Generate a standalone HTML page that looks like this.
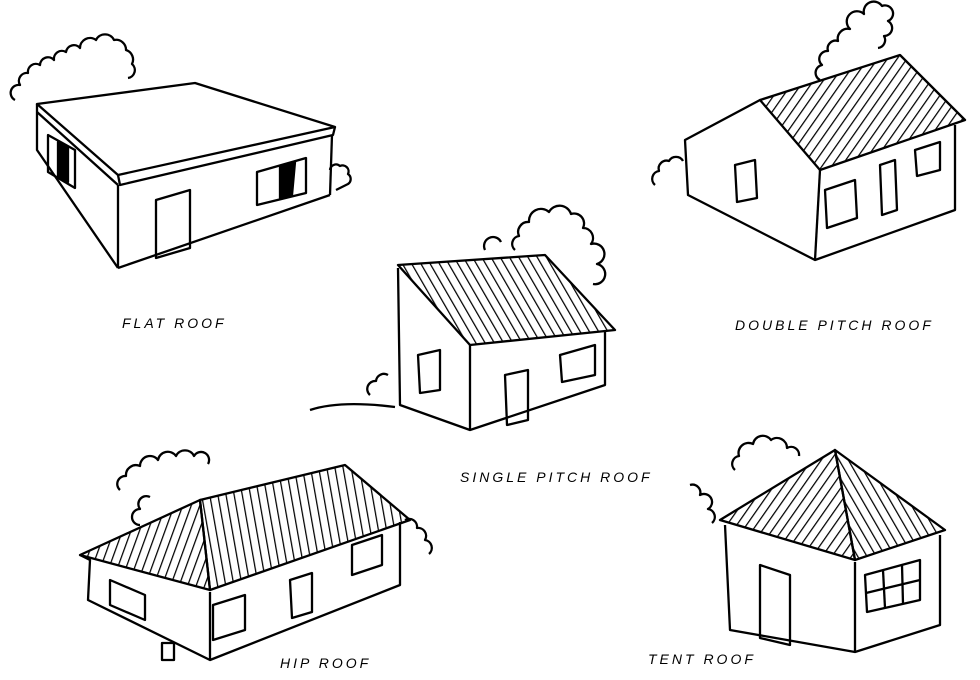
<!DOCTYPE html>
<html><head><style>
html,body{margin:0;padding:0;background:#fff;}
svg{display:block}
text{font-family:"Liberation Sans",sans-serif;font-style:italic;font-size:14px;letter-spacing:3px;fill:#000}
</style></head><body>
<svg width="980" height="680" viewBox="0 0 980 680" xmlns="http://www.w3.org/2000/svg">
<defs>
<pattern id="h1" patternUnits="userSpaceOnUse" width="8" height="8" patternTransform="rotate(35)"><line x1="0" y1="0" x2="0" y2="8" stroke="#000" stroke-width="2.5"/></pattern>
<pattern id="h2" patternUnits="userSpaceOnUse" width="8" height="8" patternTransform="rotate(-30)"><line x1="0" y1="0" x2="0" y2="8" stroke="#000" stroke-width="2.5"/></pattern>
<pattern id="h3" patternUnits="userSpaceOnUse" width="8" height="8" patternTransform="rotate(20)"><line x1="0" y1="0" x2="0" y2="8" stroke="#000" stroke-width="2.5"/></pattern>
<pattern id="h4" patternUnits="userSpaceOnUse" width="8" height="8" patternTransform="rotate(-10)"><line x1="0" y1="0" x2="0" y2="8" stroke="#000" stroke-width="2.5"/></pattern>
</defs>
<g fill="none" stroke="#000" stroke-width="2.3" stroke-linejoin="round">
<!-- bushes (scalloped) -->
<path d="M15,100 a8,8 0 0 1 5,-15 a8,8 0 0 1 8,-12 a8,8 0 0 1 12,-8 a8,8 0 0 1 14,-5 a8,8 0 0 1 12,-8 a8,8 0 0 1 14,-4 a10,10 0 0 1 16,-8 a10,10 0 0 1 18,0 a10,10 0 0 1 12,10 a10,10 0 0 1 6,14 a8,8 0 0 1 -4,14"/>
<path d="M820,80 a8,8 0 0 1 2,-15 a8,8 0 0 1 6,-14 a8,8 0 0 1 10,-10 a10,10 0 0 1 12,-12 a10,10 0 0 1 14,-15 a10,10 0 0 1 18,-8 a8,8 0 0 1 6,15 a8,8 0 0 1 -4,15 a8,8 0 0 1 -6,12"/>
<path d="M515,250 a8,8 0 0 1 4,-14 a10,10 0 0 1 10,-14 a12,12 0 0 1 20,-10 a12,12 0 0 1 22,2 a10,10 0 0 1 12,14 a10,10 0 0 1 8,16 a10,10 0 0 1 6,20 a10,10 0 0 1 -4,20"/>
<path d="M485,250 a6,6 0 0 1 16,-8"/>
<path d="M120,490 a8,8 0 0 1 6,-14 a10,10 0 0 1 14,-10 a10,10 0 0 1 18,-6 a10,10 0 0 1 18,-4 a10,10 0 0 1 18,0 a8,8 0 0 1 14,8"/>
<path d="M140,525 a8,8 0 0 1 0,-16 a8,8 0 0 1 10,-12"/>
<path d="M735,470 a8,8 0 0 1 4,-14 a10,10 0 0 1 14,-12 a10,10 0 0 1 18,-4 a10,10 0 0 1 16,8 a8,8 0 0 1 12,8"/>
<path d="M370,395 a8,8 0 0 1 6,-14 a8,8 0 0 1 12,-6"/><path d="M310,410 q30,-10 85,-3"/>
<path d="M655,185 a8,8 0 0 1 4,-14 a8,8 0 0 1 10,-10 a8,8 0 0 1 14,0"/><path d="M330,170 a6,6 0 0 1 10,-4 a6,6 0 0 1 8,8 a6,6 0 0 1 0,10 l-12,6"/>
<path d="M405,520 a8,8 0 0 1 12,8 a8,8 0 0 1 8,12 a8,8 0 0 1 4,14"/><path d="M690,485 a8,8 0 0 1 10,10 a8,8 0 0 1 8,14 a8,8 0 0 1 4,14"/>
<!-- FLAT ROOF -->
<polygon points="37,104 195,83 335,127 118,175"/>
<polyline points="118,175 120,185 333,135 335,127"/>
<polyline points="37,104 37,150 118,268"/>
<line x1="37" y1="112" x2="118" y2="185"/>
<line x1="118" y1="185" x2="118" y2="268"/>
<line x1="332" y1="135" x2="330" y2="195"/>
<line x1="118" y1="268" x2="330" y2="195"/>
<polygon points="156,200 190,190 190,248 156,258"/>
<polygon points="257,172 306,158 306,193 257,205"/>
<polygon points="280,166 295,162 292,195 280,198" fill="#000"/>
<polygon points="48,135 75,150 75,188 48,172"/>
<polygon points="58,142 68,147 68,182 58,176" fill="#000"/>
<!-- DOUBLE PITCH -->
<polygon points="760,100 900,55 965,120 820,170" fill="url(#h1)"/>
<polyline points="760,100 685,140 688,195 815,260 955,210 955,125"/>
<line x1="820" y1="170" x2="815" y2="260"/>
<polygon points="735,165 755,160 757,198 737,202"/>
<polygon points="880,165 895,160 897,210 882,215"/>
<polygon points="825,190 855,180 857,218 827,228"/>
<polygon points="915,150 940,142 940,170 917,176"/>
<!-- SINGLE PITCH -->
<polygon points="398,265 545,255 615,330 470,345" fill="url(#h2)"/>
<polyline points="398,268 400,405 470,430 605,385 605,330"/>
<line x1="470" y1="345" x2="470" y2="430"/>
<polygon points="505,375 528,370 528,420 507,425"/>
<polygon points="418,355 440,350 440,390 420,393"/>
<polygon points="560,355 595,345 595,375 562,382"/>
<!-- HIP ROOF -->
<polygon points="80,555 200,500 210,590" fill="url(#h3)"/>
<polygon points="200,500 345,465 410,520 210,590" fill="url(#h4)"/>
<polyline points="80,555 90,560 88,600 210,660 400,585 400,522"/>
<line x1="210" y1="592" x2="210" y2="660"/>
<polygon points="290,580 312,573 312,612 292,618"/>
<polygon points="110,580 145,595 145,620 110,605"/>
<polygon points="213,605 245,595 245,630 213,640"/>
<polygon points="352,545 382,535 382,565 352,575"/>
<rect x="162" y="643" width="12" height="17"/>
<!-- TENT ROOF -->
<polygon points="835,450 720,520 855,560" fill="url(#h1)"/>
<polygon points="835,450 855,560 945,530" fill="url(#h2)"/>
<polyline points="725,525 730,630 855,652 940,625 940,535"/>
<line x1="855" y1="562" x2="855" y2="652"/>
<polygon points="760,565 790,575 790,645 760,638"/>
<polygon points="865,575 920,560 920,600 867,612"/>
<line x1="883" y1="570" x2="885" y2="608"/><line x1="902" y1="565" x2="903" y2="604"/>
<line x1="866" y1="593" x2="920" y2="580"/>
</g>
<text x="122" y="328">FLAT ROOF</text>
<text x="735" y="330" font-size="12">DOUBLE PITCH ROOF</text>
<text x="460" y="482">SINGLE PITCH ROOF</text>
<text x="280" y="668">HIP ROOF</text>
<text x="648" y="664">TENT ROOF</text>
</svg>
</body></html>
